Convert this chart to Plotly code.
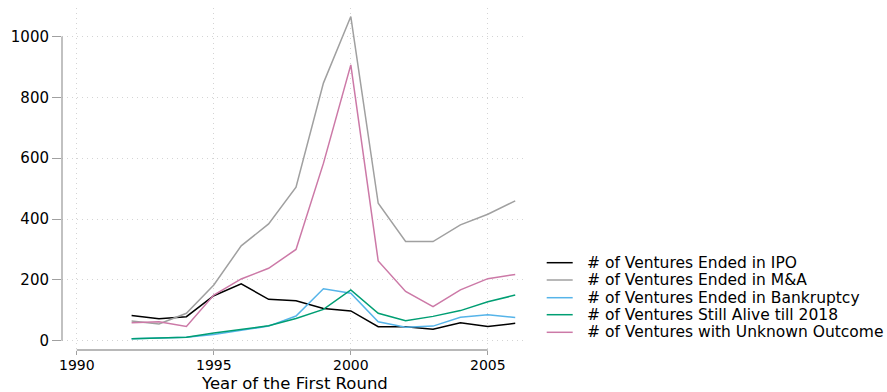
import plotly.graph_objects as go

years = list(range(1992, 2007))
ipo = [83, 72, 79, 148, 187, 136, 131, 106, 98, 46, 46, 38, 59, 47, 57]
mna = [65, 55, 90, 183, 312, 384, 505, 847, 1066, 452, 326, 326, 381, 416, 460]
bankruptcy = [6, 8, 11, 20, 35, 48, 81, 171, 156, 62, 44, 48, 77, 85, 76]
alive = [6, 8, 11, 25, 38, 49, 73, 103, 167, 90, 66, 80, 99, 128, 150]
unknown = [59, 62, 47, 150, 203, 238, 300, 583, 907, 262, 162, 112, 167, 204, 218]

names = ["# of Ventures Ended in IPO",
         "# of Ventures Ended in M&A",
         "# of Ventures Ended in Bankruptcy",
         "# of Ventures Still Alive till 2018",
         "# of Ventures with Unknown Outcome"]
colors = ["#000000", "#a0a0a0", "#56B4E9", "#009E73", "#CC79A7"]
series = [ipo, mna, bankruptcy, alive, unknown]

x_ticks = [1990, 1995, 2000, 2005]
y_ticks = [0, 200, 400, 600, 800, 1000]

W, H = 887, 392
L, R, T, B = 62, 527, 8, 350
pw, ph = R - L, B - T

fig = go.Figure()
for name, col, vals in zip(names, colors, series):
    fig.add_trace(go.Scatter(x=years, y=vals, mode="lines", name=name,
                             line=dict(color=col, width=1.5), showlegend=False))

font = "DejaVu Sans, Liberation Sans, Arial, sans-serif"
axcol = "#a0a0a0"
gridcol = "#d4d4d4"

fig.update_layout(
    width=W, height=H, margin=dict(l=L, r=W - R, t=T, b=H - B, autoexpand=False),
    paper_bgcolor="white", plot_bgcolor="white",
    font=dict(family=font, color="black", size=15),
    xaxis=dict(range=[1989.46, 2006.43], tickvals=x_ticks, ticks="outside", ticklen=4,
               tickcolor=axcol, showline=False, zeroline=False, showgrid=True,
               gridcolor=gridcol, griddash="1px,4px", gridwidth=1,
               ticklabelstandoff=-2,
               tickfont=dict(size=14), automargin=False),
    yaxis=dict(range=[-30.6, 1094], tickvals=y_ticks, ticks="outside", ticklen=9,
               tickcolor=axcol, showline=False, zeroline=False, showgrid=True,
               gridcolor=gridcol, griddash="1px,4px", gridwidth=1,
               tickfont=dict(size=15), automargin=False),
)

shapes = [
    dict(type="line", xref="paper", yref="y", x0=0, x1=0, y0=0, y1=1000,
         line=dict(color=axcol, width=1.3)),
    dict(type="line", xref="x", yref="paper", x0=1990, x1=2005, y0=0, y1=0,
         line=dict(color=axcol, width=1.3)),
]
annotations = [
    dict(text="Year of the First Round", xref="paper", yref="paper", x=0.5,
         y=(B - 383.5) / ph, xanchor="center", yanchor="middle", showarrow=False,
         font=dict(size=16.5, family=font, color="black")),
]

leg_rows = [262.7, 280, 297.7, 314.7, 332.3]
for name, col, py in zip(names, colors, leg_rows):
    yp = (B - py) / ph
    shapes.append(dict(type="line", xref="paper", yref="paper",
                       x0=(546.7 - L) / pw, x1=(572.7 - L) / pw, y0=yp, y1=yp,
                       line=dict(color=col, width=1.5)))
    annotations.append(dict(text=name, xref="paper", yref="paper", x=(585 - L) / pw,
                            y=yp, xanchor="left", yanchor="middle", showarrow=False,
                            font=dict(size=15.5, family=font, color="black")))

fig.update_layout(shapes=shapes, annotations=annotations)
fig.write_html("out.html")
